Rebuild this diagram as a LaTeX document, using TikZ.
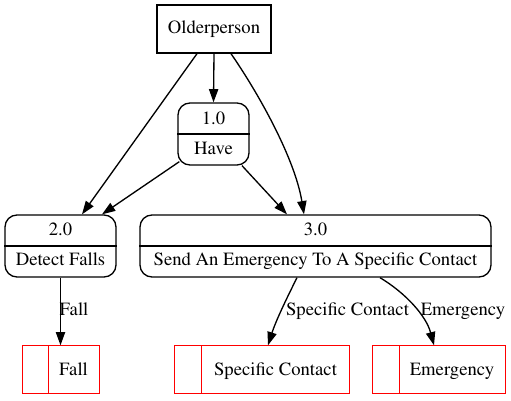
\documentclass[tikz,border=0pt]{standalone}
\usepackage[T1]{fontenc}
\renewcommand{\rmdefault}{ptm}
\usetikzlibrary{arrows.meta}
\definecolor{storered}{RGB}{255,0,0}
\begin{document}
\begin{tikzpicture}[x=1bp,y=-1bp,
  every node/.style={font=\fontencoding{T1}\fontfamily{ptm}\fontsize{18.67bp}{22bp}\selectfont},
  entity/.style={draw, line width=1.33bp, minimum width=114bp, minimum height=48bp, inner sep=0pt},
  proc/.style={draw, rounded corners=12bp, line width=1.33bp, inner sep=0pt, minimum height=62bp},
  store/.style={inner sep=0pt, minimum height=48bp},
  storeline/.style={draw=storered, line width=1.33bp, line cap=rect},
  divider/.style={draw, line width=1.33bp},
  txt/.style={inner sep=0pt, anchor=base},
  flow/.style={-{Triangle[length=13.3bp,width=9.3bp]}, line width=1.33bp}]
\useasboundingbox (0,0) rectangle (511,400);

% external entity
\node[entity] (o) at (214,29) {Olderperson};

% processes
\node[proc, minimum width=71bp] (p1) at (213.5,134) {};
\draw[divider] (p1.west) -- (p1.east);
\node[txt] (p1a) at (213.5,124) {1.0};
\node[txt] (p1b) at (213.5,154) {Have};

\node[proc, minimum width=111bp] (p2) at (60.5,246) {};
\draw[divider] (p2.west) -- (p2.east);
\node[txt] (p2a) at (60.5,235.7) {2.0};
\node[txt] (p2b) at (60.5,265.7) {Detect Falls};

\node[proc, minimum width=351bp] (p3) at (315.5,246) {};
\draw[divider] (p3.west) -- (p3.east);
\node[txt] (p3a) at (315.5,235.7) {3.0};
\node[txt] (p3b) at (315.5,265.7) {Send An Emergency To A Specific Contact};

% data stores
\node[store, minimum width=76bp] (s1) at (61,369.5) {};
\draw[storeline] (s1.north west) -- (s1.north east);
\draw[storeline] (s1.north east) -- (s1.south east);
\draw[storeline] (s1.south east) -- (s1.south west);
\draw[storeline] (s1.south west) -- (s1.north west);
\draw[storeline] ([xshift=26bp]s1.north west) -- ([xshift=26bp]s1.south west);
\node[txt] (s1t) at (73.5,375) {Fall};

\node[store, minimum width=174bp] (s2) at (262,369.5) {};
\draw[storeline] (s2.north west) -- (s2.north east);
\draw[storeline] (s2.north east) -- (s2.south east);
\draw[storeline] (s2.south east) -- (s2.south west);
\draw[storeline] (s2.south west) -- (s2.north west);
\draw[storeline] ([xshift=27bp]s2.north west) -- ([xshift=27bp]s2.south west);
\node[txt] (s2t) at (275.5,375) {Specific Contact};

\node[store, minimum width=132bp] (s3) at (439,369.5) {};
\draw[storeline] (s3.north west) -- (s3.north east);
\draw[storeline] (s3.north east) -- (s3.south east);
\draw[storeline] (s3.south east) -- (s3.south west);
\draw[storeline] (s3.south west) -- (s3.north west);
\draw[storeline] ([xshift=27bp]s3.north west) -- ([xshift=27bp]s3.south west);
\node[txt] (s3t) at (452,375) {Emergency};

% flows
\draw[flow] (o.south) -- (p1.north);
\draw[flow] ([xshift=-17bp]o.south) -- ([xshift=21.5bp]p2.north);
\draw[flow] ([xshift=17bp]o.south) .. controls +(29,42) and +(-9,-55) .. ([xshift=-11.5bp]p3.north);
\draw[flow] ([xshift=2bp,yshift=4bp]p1.south west) -- ([xshift=41.5bp]p2.north);
\draw[flow] ([xshift=28.5bp]p1.south) -- ([xshift=-28.5bp]p3.north);
\draw[flow] (p2.south) -- (p2.south |- s1.north);
\draw[flow] ([xshift=-18.5bp]p3.south) .. controls +(-10,20) and +(8,-25) .. ([xshift=6bp]s2.north);
\draw[flow] ([xshift=64.5bp]p3.south) .. controls +(25,15) and +(-8,-30) .. ([xshift=-5bp]s3.north);

% flow labels
\node[txt] (l1) at (74,315) {Fall};
\node[txt] (l2) at (347.5,315) {Specific Contact};
\node[txt] (l3) at (463,315) {Emergency};
\end{tikzpicture}
\end{document}
